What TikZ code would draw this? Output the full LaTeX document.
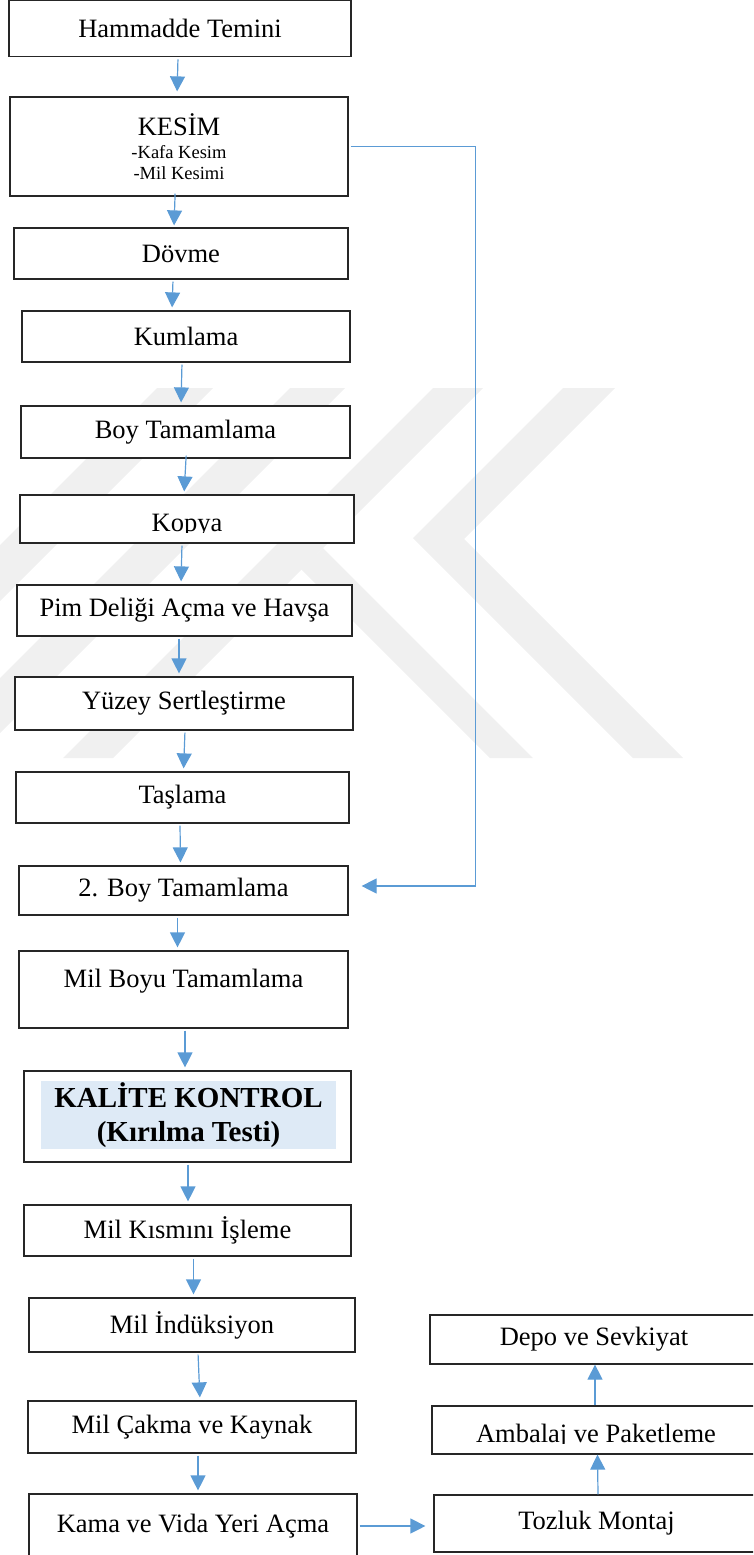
\documentclass[tikz,border=0pt]{standalone}
\usepackage{fontspec}
\setmainfont{Liberation Serif}
\usetikzlibrary{arrows.meta}

\definecolor{flowblue}{HTML}{5B9BD5}
\definecolor{hlblue}{HTML}{DEEAF6}
\definecolor{markgray}{HTML}{F0F0F0}
\newcommand\stepfont{\fontsize{26.5}{30}\selectfont}
\newcommand\notefont{\fontsize{18.5}{21}\selectfont}
\newcommand\qcfont{\fontsize{29}{34}\selectfont\bfseries}

\tikzset{
  stepbox/.style={draw=black!85, line width=1.2pt, fill=white, inner sep=0pt, font=\stepfont},
  flow/.style={draw=flowblue, line width=1.2pt, -{Triangle[length=15pt,width=15pt]}, shorten <=2pt, shorten >=3pt},
  hlbox/.style={fill=hlblue, inner sep=0pt, minimum width=295, minimum height=68, align=center, font=\qcfont}
}

\begin{document}
\begin{tikzpicture}[x=1pt, y=-1pt]
	\useasboundingbox (0,0) rectangle (753,1555);
	\clip (0,0) rectangle (753,1555);
	% watermark
	\fill[markgray] (157,388) -- (213,388) -- (0,601) -- (0,545) -- cycle;
	\fill[markgray] (290,388) -- (345,388) -- (0,733) -- (0,678) -- cycle;
	\fill[markgray] (433,388) -- (483,388) -- (113,758) -- (63,758) -- cycle;
	\fill[markgray] (563,388) -- (615,388) -- (464,539) -- (683,758) -- (633,758) -- (413,538) -- cycle;
	\fill[markgray] (323,548) -- (533,758) -- (490,758) -- (301,569) -- cycle;

	% main line
	\node[stepbox, minimum width=342, minimum height=56] (hammadde) at (180,28.8) {Hammadde Temini};
	\node[stepbox, minimum width=338, minimum height=99, align=center, font=\notefont] (kesim) at (179,146.5)
		{{\stepfont KESİM}\\[2pt]-Kafa Kesim\\-Mil Kesimi};
	\node[stepbox, minimum width=334, minimum height=51] (dovme) at (181,253.5) {Dövme};
	\node[stepbox, minimum width=328, minimum height=51] (kumlama) at (186,336.5) {Kumlama};
	\node[stepbox, minimum width=329, minimum height=52] (boy) at (185.5,432) {Boy Tamamlama};
	\node[stepbox, minimum width=334, minimum height=48] (kopya) at (187,519) {};
	\begin{scope}
		\clip (kopya.north west) rectangle ([yshift=11pt]kopya.south east);
		\node[font=\stepfont, inner sep=0pt, anchor=base] (kopyatext) at ([yshift=-12pt]kopya.center) {Kopya};
	\end{scope}
	\node[stepbox, minimum width=335, minimum height=51] (pim) at (184.5,610.5) {Pim Deliği Açma ve Havşa};
	\node[stepbox, minimum width=338, minimum height=53] (yuzey) at (184,703.5) {Yüzey Sertleştirme};
	\node[stepbox, minimum width=333, minimum height=51] (taslama) at (182.5,797.5) {Taşlama};
	\node[stepbox, minimum width=329, minimum height=49] (ikinciboy) at (183.5,890.5) {2. Boy Tamamlama};
	\node[stepbox, minimum width=329, minimum height=77, text depth=22pt] (milboyu) at (183.5,989.5) {Mil Boyu Tamamlama};
	\node[stepbox, minimum width=327, minimum height=91] (kalite) at (187.5,1116.5) {};
	\node[hlbox] (kalitetext) at (188.5,1115) {KALİTE KONTROL\\(Kırılma Testi)};
	\node[stepbox, minimum width=327, minimum height=51] (milkismi) at (187.5,1230.5) {Mil Kısmını İşleme};
	\node[stepbox, minimum width=326, minimum height=54] (induksiyon) at (192,1325) {Mil İndüksiyon};
	\node[stepbox, minimum width=328, minimum height=52] (cakma) at (192,1427) {Mil Çakma ve Kaynak};
	\node[stepbox, minimum width=328, minimum height=64] (kama) at (193,1526) {Kama ve Vida Yeri Açma};

	% right column
	\node[stepbox, minimum width=325, minimum height=57] (tozluk) at (596.5,1523.5) {Tozluk Montaj};
	\node[stepbox, minimum width=328, minimum height=48] (ambalaj) at (596,1430) {};
	\begin{scope}
		\clip (ambalaj.north west) rectangle ([yshift=11pt]ambalaj.south east);
		\node[font=\stepfont, inner sep=0pt, anchor=base] (ambalajtext) at ([yshift=-12.5pt]ambalaj.center) {Ambalaj ve Paketleme};
	\end{scope}
	\node[stepbox, minimum width=328, minimum height=49] (depo) at (594,1339.5) {Depo ve Sevkiyat};

	% arrows
	\draw[flow, shorten >=5pt] ([xshift=-2pt]hammadde.south) -- ([xshift=-2pt]kesim.north);
	\draw[flow, shorten <=-3pt, shorten >=2pt] ([xshift=-4pt]kesim.south) -- ([xshift=-7pt]dovme.north);
	\draw[flow] ([xshift=-8pt]dovme.south) -- ([xshift=-14pt]kumlama.north);
	\draw[flow] ([xshift=-4pt]kumlama.south) -- ([xshift=-4.5pt]boy.north);
	\draw[flow, shorten <=-3pt] ([xshift=0.5pt]boy.south) -- ([xshift=-3pt]kopya.north);
	\draw[flow] ([xshift=-5pt]kopya.south) -- ([xshift=-3.5pt]pim.north);
	\draw[flow] ([xshift=-5.5pt]pim.south) -- ([xshift=-5pt]yuzey.north);
	\draw[flow] ([xshift=1pt]yuzey.south) -- ([xshift=1pt]taslama.north);
	\draw[flow] ([xshift=-2.5pt]taslama.south) -- ([xshift=-3pt]ikinciboy.north);
	\draw[flow] ([xshift=-6pt]ikinciboy.south) -- ([xshift=-6pt]milboyu.north);
	\draw[flow] ([xshift=1.5pt]milboyu.south) -- ([xshift=-2.5pt]kalite.north);
	\draw[flow] ([xshift=0.5pt]kalite.south) -- ([xshift=0.5pt]milkismi.north);
	\draw[flow] ([xshift=6pt]milkismi.south) -- ([xshift=1.5pt]induksiyon.north);
	\draw[flow] ([xshift=6pt]induksiyon.south) -- ([xshift=8pt]cakma.north);
	\draw[flow] ([xshift=6pt]cakma.south) -- ([xshift=5pt]kama.north);
	\draw[flow, shorten >=13pt] (kesim.east) -- ++(127,0) |- ([yshift=4.5pt]ikinciboy.east);
	\draw[flow, shorten >=8pt] (kama.east) -- (kama.east -| tozluk.west);
	\draw[flow, shorten <=0pt, shorten >=0pt] ([xshift=1.5pt]tozluk.north) -- ([xshift=1.5pt]ambalaj.south);
	\draw[flow, shorten <=0pt, shorten >=0pt] ([xshift=-1pt]ambalaj.north) -- ([xshift=1pt]depo.south);
\end{tikzpicture}
\end{document}
